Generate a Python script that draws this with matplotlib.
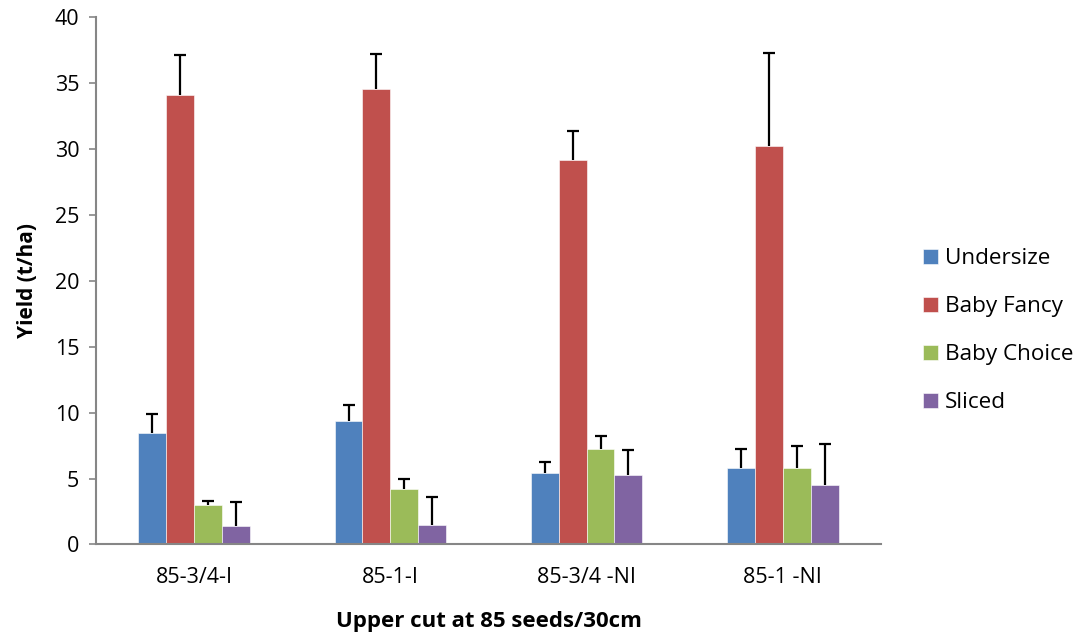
import matplotlib
matplotlib.use("Agg")
import matplotlib.pyplot as plt
import numpy as np

plt.rcParams['font.family'] = ['Open Sans', 'DejaVu Sans']

categories = ["85-3/4-I", "85-1-I", "85-3/4 -NI", "85-1 -NI"]
series_names = ["Undersize", "Baby Fancy", "Baby Choice", "Sliced"]
undersize = [8.43, 9.36, 5.39, 5.79]
baby_fancy = [34.08, 34.60, 29.15, 30.28]
baby_choice = [3.00, 4.23, 7.26, 5.77]
sliced = [1.44, 1.49, 5.26, 4.55]
undersize_err = [1.44, 1.20, 0.86, 1.42]
baby_fancy_err = [3.10, 2.65, 2.20, 7.04]
baby_choice_err = [0.30, 0.76, 0.96, 1.72]
sliced_err = [1.80, 2.10, 1.93, 3.06]
y_ticks = [0, 5, 10, 15, 20, 25, 30, 35, 40]

values = [undersize, baby_fancy, baby_choice, sliced]
errors = [undersize_err, baby_fancy_err, baby_choice_err, sliced_err]
colors = ["#4F81BD", "#C0504D", "#9BBB59", "#8064A2"]

fig = plt.figure(figsize=(10.86, 6.36), dpi=100)
ax = fig.add_axes([0.0884, 0.1439, 0.8112 - 0.0884, 0.9725 - 0.1439])

x = np.arange(len(categories))
width = 0.142
for i, (vals, errs, col, name) in enumerate(zip(values, errors, colors, series_names)):
    pos = x + (i - 1.5) * width
    ax.bar(pos, vals, width, color=col, label=name, edgecolor="white",
           linewidth=0.4, zorder=2)
    # upper-only error bars: hide the cap drawn at the bar top
    eb = ax.errorbar(pos, vals, yerr=[np.zeros(len(errs)), errs], fmt="none",
                     ecolor="black", elinewidth=1.6, capsize=4.5, capthick=1.6,
                     zorder=3)
    eb[1][0].set_visible(False)

ax.set_xlim(-0.5, len(categories) - 0.5)
ax.set_ylim(0, 40)
ax.set_yticks(y_ticks)
ax.set_xticks(x)
ax.set_xticklabels(categories)

for side in ("top", "right"):
    ax.spines[side].set_visible(False)
for side in ("left", "bottom"):
    ax.spines[side].set_color("#868686")
    ax.spines[side].set_linewidth(1.5)

ax.tick_params(axis="y", direction="out", length=5, width=1.2, color="#868686",
               labelsize=15.5, pad=7)
ax.tick_params(axis="x", length=0, labelsize=15.5, pad=16)

ax.set_ylabel("Yield (t/ha)", fontsize=15, fontweight="bold", labelpad=12)
ax.set_xlabel("Upper cut at 85 seeds/30cm", fontsize=16, fontweight="bold",
              labelpad=17)

ax.legend(loc="center left", bbox_to_anchor=(0.8394, 0.480),
          bbox_transform=fig.transFigure, frameon=False, borderpad=0,
          fontsize=16.2, handlelength=0.68, handleheight=0.68, labelspacing=1.2,
          handletextpad=0.3)

fig.savefig("out.png", dpi=100)
